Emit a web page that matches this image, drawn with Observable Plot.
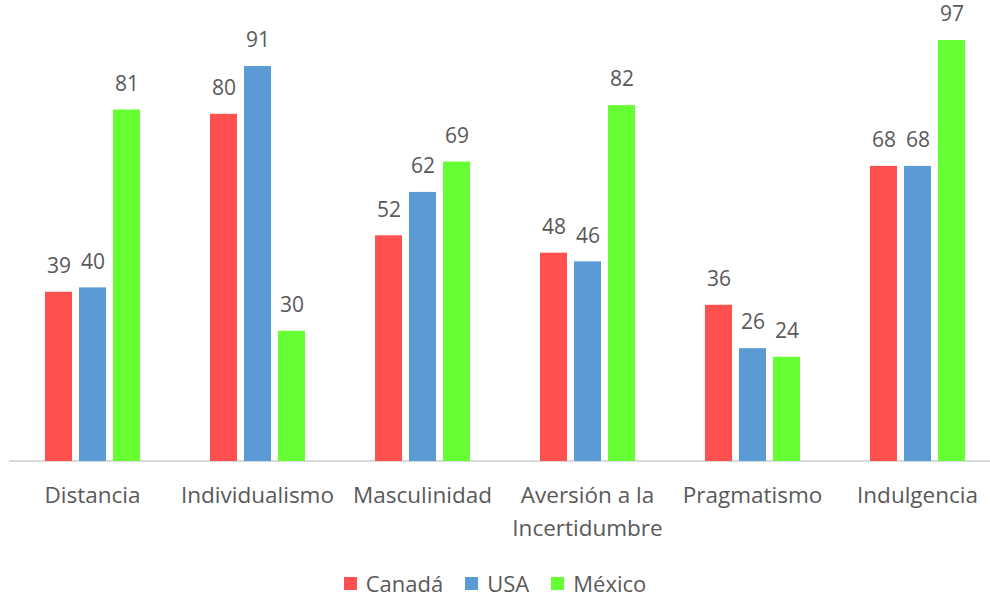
<!DOCTYPE html>
<html><head><meta charset="utf-8">
<script src="https://cdn.jsdelivr.net/npm/d3@7"></script>
<script src="https://cdn.jsdelivr.net/npm/@observablehq/plot@0.6"></script>
<style>
body{margin:0;background:#fff;font-family:"Open Sans",sans-serif;}
#legend{display:flex;justify-content:center;align-items:center;height:38px;margin-top:4px;font-size:22px;color:#595959;}
#legend span.item{display:flex;align-items:center;margin:0 11px;}
#legend span.sw{display:inline-block;width:13px;height:13px;margin-right:9px;}
</style>
</head><body>
<div id="chart"></div>
<div id="legend"></div>
<script>
const categories = ["Distancia","Individualismo","Masculinidad","Aversión a la\nIncertidumbre","Pragmatismo","Indulgencia"];
const series = ["Canadá","USA","México"];
const canada = [39,80,52,48,36,68];
const usa = [40,91,62,46,26,68];
const mexico = [81,30,69,82,24,97];
const colors = ["#FF4F4F","#5B9BD5","#66FF33"];

const rows = [];
[canada, usa, mexico].forEach((vals, si) => vals.forEach((v, ci) => rows.push({cat: categories[ci], s: series[si], v})));

const chart = Plot.plot({
  width: 990, height: 560,
  marginTop: 27, marginBottom: 99, marginLeft: 7, marginRight: -11,
  style: {fontFamily: "'Open Sans', sans-serif", fontSize: "21px", color: "#595959", overflow: "visible"},
  fx: {domain: categories, paddingInner: 0.419, paddingOuter: 0.2095, label: null},
  x: {domain: series, paddingInner: 0.217, paddingOuter: 0, axis: null},
  y: {domain: [0, 100], axis: null},
  color: {domain: series, range: colors},
  marks: [
    Plot.barY(rows, {fx: "cat", x: "s", y: "v", fill: "s"}),
    Plot.text(rows, {fx: "cat", x: "s", y: "v", text: d => String(d.v), dy: -26, fill: "#595959", fontSize: 21}),
    Plot.axisFx({anchor: "bottom", tickSize: 0, tickPadding: 18, fontSize: 22.5, lineHeight: 1.48, label: null, fill: "#595959"})
  ]
});
const y0 = chart.scale("y").apply(0);
d3.select(chart).insert("line", ":first-child")
  .attr("x1", 9).attr("x2", 990).attr("y1", y0).attr("y2", y0)
  .attr("stroke", "#D9D9D9").attr("stroke-width", 2);
document.getElementById("chart").append(chart);

const lg = document.getElementById("legend");
series.forEach((s, i) => {
  const it = document.createElement("span"); it.className = "item";
  const sw = document.createElement("span"); sw.className = "sw"; sw.style.background = colors[i];
  it.append(sw, document.createTextNode(s));
  lg.append(it);
});
</script>
</body></html>
